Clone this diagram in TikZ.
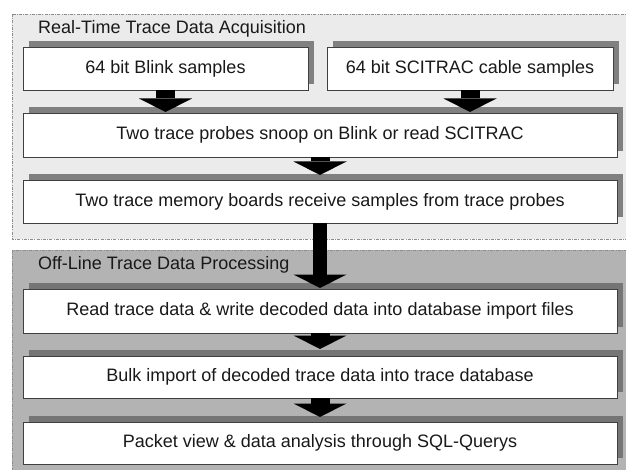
\documentclass[tikz,border=0pt]{standalone}
\usepackage{fontspec}
\setmainfont{Liberation Sans}
\usetikzlibrary{arrows.meta,shadows}
\definecolor{topbg}{HTML}{EBEBEB}
\definecolor{botbg}{HTML}{B3B3B3}
\definecolor{shdA}{HTML}{808080}
\definecolor{shdB}{HTML}{757575}
\definecolor{frame}{HTML}{8C8C8C}
\definecolor{boxline}{HTML}{404040}
\begin{document}
\begin{tikzpicture}[x=1pt,y=-1pt,
  container/.style={draw=frame,line width=0.8pt,dash pattern=on 3pt off 1.2pt on 1pt off 1.2pt},
  sectitle/.style={anchor=west,inner sep=0pt,font=\fontsize{18}{21}\selectfont,text=black!90},
  procbox/.style={draw=boxline,line width=0.9pt,fill=white,inner sep=0pt,outer sep=0pt,
    minimum height=43pt,font=\fontsize{18}{21}\selectfont,text=black!90},
  shA/.style={drop shadow={shadow xshift=6pt,shadow yshift=6pt,opacity=1,fill=shdA}},
  shB/.style={drop shadow={shadow xshift=6pt,shadow yshift=6pt,opacity=1,fill=shdB}},
  blockarrow/.style={line width=19pt,black,
    -{Triangle[length=13.5pt,width=53pt,line width=0pt]}},
  bigarrow/.style={line width=14pt,black,
    -{Triangle[length=13.5pt,width=53pt,line width=0pt]}}]
\clip (0,0) rectangle (626,470);
\fill[white] (0,0) rectangle (626,470);
% containers
\path[container,fill=topbg] (12,14) rectangle (640,239);
\path[container,fill=botbg] (12,250) rectangle (640,480);
% titles
\node[sectitle] (t1) at (38,28.5) {Real-Time Trace Data Acquisition};
\node[sectitle] (t2) at (38,265) {Off-Line Trace Data Processing};
% boxes
\node[procbox,shA,minimum width=285pt] (b1) at (165.5,68.5) {64 bit Blink samples};
\node[procbox,shA,minimum width=286pt] (b2) at (470,68.5) {64 bit SCITRAC cable samples};
\node[procbox,shA,minimum width=594pt,minimum height=44pt] (b3) at (320,135) {Two trace probes snoop on Blink or read SCITRAC};
\node[procbox,shA,minimum width=594pt] (b4) at (320,201.5) {Two trace memory boards receive samples from trace probes};
\node[procbox,shB,minimum width=594pt,minimum height=44pt] (b5) at (320,311) {Read trace data \& write decoded data into database import files};
\node[procbox,shB,minimum width=594pt,minimum height=42pt] (b6) at (320,377) {Bulk import of decoded trace data into trace database};
\node[procbox,shB,minimum width=594pt,minimum height=42pt] (b7) at (320,443) {Packet view \& data analysis through SQL-Querys};
% arrows
\draw[blockarrow,shorten >=1pt] (b1.south) -- (b1.south |- b3.north);
\draw[blockarrow,shorten >=1pt] (b2.south) -- (b2.south |- b3.north);
\draw[blockarrow,shorten >=5pt] (b3.south) -- (b4.north);
\draw[bigarrow,shorten >=1pt] (b4.south) -- (b5.north);
\draw[blockarrow,shorten >=7pt] (b5.south) -- (b6.north);
\draw[blockarrow,shorten >=5pt] (b6.south) -- (b7.north);
\end{tikzpicture}
\end{document}
